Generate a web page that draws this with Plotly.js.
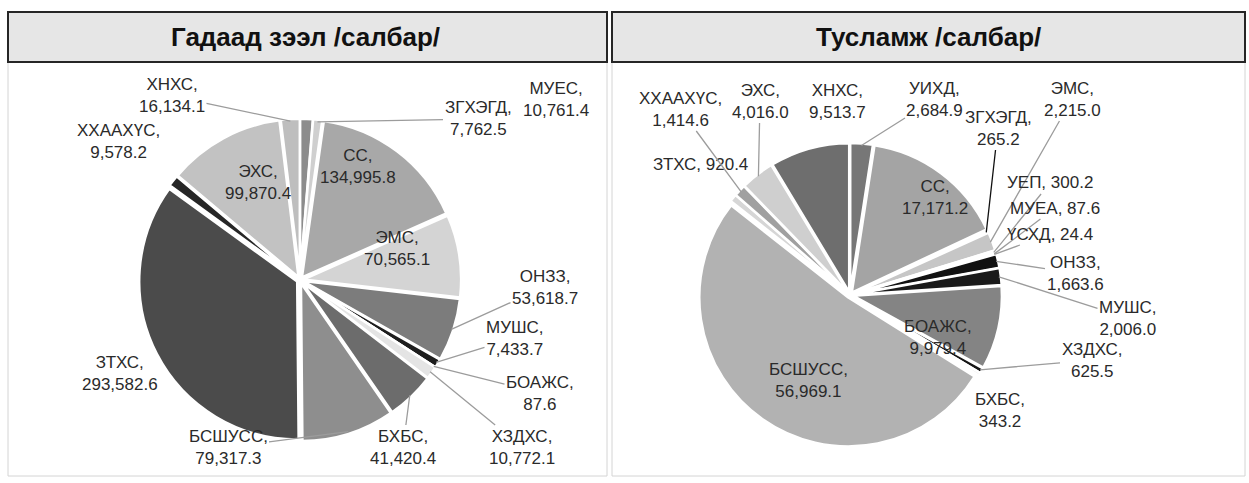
<!DOCTYPE html>
<html>
<head>
<meta charset="utf-8">
<script src="https://cdn.plot.ly/plotly-3.0.1.min.js"></script>
<style>html,body{margin:0;padding:0;background:#fff;}#chart{width:1249px;height:483px;}</style>
</head>
<body>
<div id="chart"></div>
<script>
// ---- data ----
const titleLeft = 'Гадаад зээл /салбар/';
const titleRight = 'Тусламж /салбар/';

const catsLeft = ['МУЕС','ЗГХЭГД','СС','ЭМС','ОНЗЗ','МУШС','БОАЖС','ХЗДХС','БХБС','БСШУСС','ЗТХС','ХХААХҮС','ЭХС','ХНХС'];
const valsLeft = [10761.4, 7762.5, 134995.8, 70565.1, 53618.7, 7433.7, 87.6, 10772.1, 41420.4, 79317.3, 293582.6, 9578.2, 99870.4, 16134.1];

const catsRight = ['УИХД','СС','ЗГХЭГД','ЭМС','УЕП','МУЕА','ҮСХД','ОНЗЗ','МУШС','БОАЖС','ХЗДХС','БХБС','БСШУСС','ЗТХС','ХХААХҮС','ЭХС','ХНХС'];
const valsRight = [2684.9, 17171.2, 265.2, 2215.0, 300.2, 87.6, 24.4, 1663.6, 2006.0, 9979.4, 625.5, 343.2, 56969.1, 920.4, 1414.6, 4016.0, 9513.7];

// ---- styles / layout (not data) ----
const W = 1249, H = 483;
const FONT = 'Liberation Sans, Arial, sans-serif';
const LABEL_SIZE = 17;
const colorsLeft = ['#8c8c8c','#cfcfcf','#a8a8a8','#d4d4d4','#7c7c7c','#1e1e1e','#555555','#e4e4e4','#6c6c6c','#8e8e8e','#4b4b4b','#262626','#c2c2c2','#bebebe'];
const colorsRight = ['#777777','#a4a4a4','#d8d8d8','#c6c6c6','#dddddd','#bbbbbb','#999999','#111111','#1a1a1a','#848484','#161616','#e0e0e0','#b2b2b2','#d6d6d6','#a0a0a0','#cfcfcf','#6e6e6e'];
// label text centre (px), leader flag (1 = leader line, 0 = plain, 2 = inside slice)
const labelPosLeft = [[556,99,0],[478,119,1],[358,166,2],[397,248,2],[545,287,1],[515,338,1],[540,393,1],[522,447,1],[403,447,1],[228,447,1],[120,373,1],[118,141,0],[258,182,2],[172,96,1]];
const labelPosRight = [[935,99,1],[935,197,2],[998,128,1],[1072,99,1],[1050,183,1],[1055,208,1],[1050,234,1],[1075,273,1],[1128,318,1],[938,337,2],[1092,360,1],[1000,410,0],[808,380,2],[700,164,0],[680,109,1],[760,101,1],[837,101,0]];
const singleLineRight = {'УЕП':1,'МУЕА':1,'ҮСХД':1,'ЗТХС':1};
const leaderColor = {'ЗГХЭГД': '#111111'};
const PULL = 0.02;
const pieLeft = {cx: 300, cy: 280, r: 158};
const pieRight = {cx: 850, cy: 295, r: 149};

function fmt(v){ return v.toLocaleString('en-US',{minimumFractionDigits:1, maximumFractionDigits:1}); }

function domainFor(p){
  const half = p.r * (1 + PULL);
  return {x: [(p.cx - half)/W, (p.cx + half)/W], y: [(H - p.cy - half)/H, (H - p.cy + half)/H]};
}

function pieTrace(cats, vals, colors, p){
  return {
    type: 'pie', labels: cats, values: vals, sort: false, direction: 'clockwise', rotation: 0,
    domain: domainFor(p),
    marker: {colors: colors, line: {color: '#ffffff', width: 2.5}},
    pull: cats.map(() => PULL),
    textinfo: 'none',
    hoverinfo: 'label+value', showlegend: false
  };
}

function labelAnnotations(cats, vals, pos, p, single, isRight){
  const total = vals.reduce((a,b)=>a+b,0);
  let cum = 0; const out = [];
  cats.forEach((c,i) => {
    const mid = (cum + vals[i]/2) / total * 2 * Math.PI;
    cum += vals[i];
    const q = pos[i]; if (!q) return;
    const text = single[c] ? c + ', ' + fmt(vals[i]) : c + ',<br>' + fmt(vals[i]);
    const R = p.r * (1 + PULL) - 2;
    const px = p.cx + R * Math.sin(mid), py = p.cy - R * Math.cos(mid);
    const base = {text: text, font: {family: FONT, size: LABEL_SIZE, color: '#2a2a2a'}, align: 'center', xref: 'paper', yref: 'paper'};
    if (q[2] === 1) {
      const col = (isRight && leaderColor[c]) ? leaderColor[c] : '#9c9c9c';
      out.push(Object.assign(base, {x: px/W, y: 1 - py/H, ax: q[0]-px, ay: q[1]-py, showarrow: true, arrowhead: 0, arrowwidth: 1.3, arrowcolor: col, standoff: 0}));
    } else {
      out.push(Object.assign(base, {x: q[0]/W, y: 1 - q[1]/H, showarrow: false, xanchor: 'center', yanchor: 'middle'}));
    }
  });
  return out;
}

function rect(x0,y0,x1,y1,fill,line,lw){
  return {type:'rect', xref:'paper', yref:'paper', x0:x0/W, x1:x1/W, y0:1-y1/H, y1:1-y0/H, fillcolor:fill, line:{color:line,width:lw}, layer:'below'};
}

const shapes = [
  rect(8,62,607,476,'rgba(0,0,0,0)','#d4d4d4',1),
  rect(612,62,1245,476,'rgba(0,0,0,0)','#d4d4d4',1),
  rect(8,12,607,62,'#e6e6e6','#262626',2),
  rect(612,12,1245,62,'#e6e6e6','#262626',2)
];

const titles = [
  {text: '<b>'+titleLeft+'</b>', x: 305/W, y: 1-37/H, xref:'paper', yref:'paper', showarrow:false, font:{family:FONT, size:26, color:'#111'}, xanchor:'center', yanchor:'middle'},
  {text: '<b>'+titleRight+'</b>', x: 928/W, y: 1-37/H, xref:'paper', yref:'paper', showarrow:false, font:{family:FONT, size:26, color:'#111'}, xanchor:'center', yanchor:'middle'}
];

const data = [
  pieTrace(catsLeft, valsLeft, colorsLeft, pieLeft),
  pieTrace(catsRight, valsRight, colorsRight, pieRight)
];

const layout = {
  width: W, height: H, margin: {l:0, r:0, t:0, b:0},
  paper_bgcolor: '#ffffff', plot_bgcolor: '#ffffff',
  font: {family: FONT, size: LABEL_SIZE, color: '#2a2a2a'},
  showlegend: false,
  shapes: shapes,
  annotations: titles
    .concat(labelAnnotations(catsLeft, valsLeft, labelPosLeft, pieLeft, {}, false))
    .concat(labelAnnotations(catsRight, valsRight, labelPosRight, pieRight, singleLineRight, true))
};

Plotly.newPlot('chart', data, layout, {displayModeBar: false, staticPlot: true});
</script>
</body>
</html>
